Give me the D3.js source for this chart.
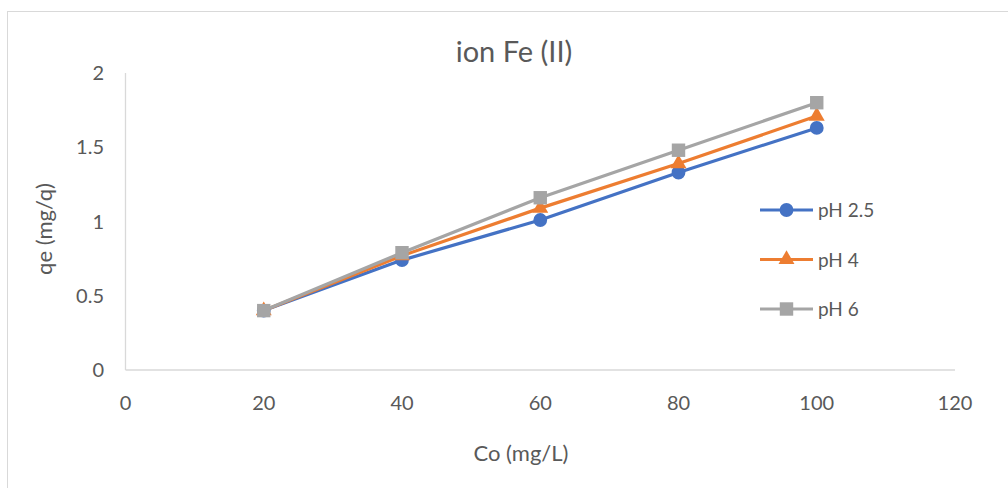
<!DOCTYPE html>
<html>
<head>
<meta charset="utf-8">
<script src="https://cdn.jsdelivr.net/npm/d3@7"></script>
<style>
  body { margin: 0; background: #fff; }
  svg { display: block; font-family: Lato, "Open Sans", sans-serif; }
</style>
</head>
<body>
<svg id="chart" width="1008" height="488"></svg>
<script>
// data
const concentrations = [20, 40, 60, 80, 100];
const ph25 = [0.40, 0.74, 1.01, 1.33, 1.63];
const ph4 = [0.40, 0.77, 1.09, 1.39, 1.71];
const ph6 = [0.40, 0.79, 1.16, 1.48, 1.80];
const seriesNames = ['pH 2.5', 'pH 4', 'pH 6'];
const xTicks = [0, 20, 40, 60, 80, 100, 120];
const yTicks = [0, 0.5, 1, 1.5, 2];

function renderChart() {
  const svg = d3.select('#chart');
  const width = 1008, height = 488;

  const x = d3.scaleLinear().domain([0, 120]).range([125.5, 955]);
  const y = d3.scaleLinear().domain([0, 2]).range([370, 73]);

  // outer chart border (runs off the right/bottom edge)
  svg.append('rect')
    .attr('x', 7.5).attr('y', 11.5)
    .attr('width', width).attr('height', height)
    .attr('fill', 'none').attr('stroke', '#d9d9d9');

  // title
  svg.append('text')
    .attr('x', 514).attr('y', 62)
    .attr('text-anchor', 'middle')
    .attr('font-size', 29).attr('fill', '#595959')
    .text('ion Fe (II)');

  // axes lines
  svg.append('line')
    .attr('x1', x(0)).attr('x2', x(0))
    .attr('y1', y(2)).attr('y2', y(0))
    .attr('stroke', '#d9d9d9').attr('stroke-width', 1.3);
  svg.append('line')
    .attr('x1', x(0)).attr('x2', x(120))
    .attr('y1', y(0)).attr('y2', y(0))
    .attr('stroke', '#d9d9d9').attr('stroke-width', 1.3);

  // tick labels
  svg.selectAll('.ytick')
    .data(yTicks)
    .enter()
    .append('text')
    .attr('class', 'ytick')
    .attr('x', 104).attr('y', d => y(d) + 7)
    .attr('text-anchor', 'end')
    .attr('font-size', 20).attr('fill', '#595959')
    .text(d => d);

  svg.selectAll('.xtick')
    .data(xTicks)
    .enter()
    .append('text')
    .attr('class', 'xtick')
    .attr('x', d => x(d)).attr('y', 410)
    .attr('text-anchor', 'middle')
    .attr('font-size', 20).attr('fill', '#595959')
    .text(d => d);

  // axis titles
  svg.append('text')
    .attr('x', 521).attr('y', 461)
    .attr('text-anchor', 'middle')
    .attr('font-size', 22).attr('fill', '#595959')
    .text('Co (mg/L)');
  svg.append('text')
    .attr('transform', 'translate(52,229) rotate(-90)')
    .attr('text-anchor', 'middle')
    .attr('font-size', 22).attr('fill', '#595959')
    .text('qe (mg/q)');

  const series = [
    { name: seriesNames[0], values: ph25, color: '#4472C4', shape: d3.symbolCircle, size: 150 },
    { name: seriesNames[1], values: ph4, color: '#ED7D31', shape: d3.symbolTriangle, size: 110 },
    { name: seriesNames[2], values: ph6, color: '#A5A5A5', shape: d3.symbolSquare, size: 180 }
  ];

  const line = d3.line()
    .x((d, i) => x(concentrations[i]))
    .y(d => y(d));

  series.forEach(s => {
    svg.append('path')
      .attr('d', line(s.values))
      .attr('fill', 'none')
      .attr('stroke', s.color)
      .attr('stroke-width', 3.2)
      .attr('stroke-linejoin', 'round');
    svg.selectAll(null)
      .data(s.values)
      .enter()
      .append('path')
      .attr('transform', (d, i) => `translate(${x(concentrations[i])},${y(d)})`)
      .attr('d', d3.symbol().type(s.shape).size(s.size))
      .attr('fill', s.color);
  });

  // legend
  const legend = svg.selectAll('.legend')
    .data(series)
    .enter()
    .append('g')
    .attr('class', 'legend')
    .attr('transform', (d, i) => `translate(760,${210 + i * 49.5})`);
  legend.append('line')
    .attr('x1', 0).attr('x2', 53)
    .attr('stroke', d => d.color).attr('stroke-width', 3.2);
  legend.append('path')
    .attr('transform', 'translate(26.5,0)')
    .attr('d', d => d3.symbol().type(d.shape).size(d.size)())
    .attr('fill', d => d.color);
  legend.append('text')
    .attr('x', 58).attr('y', 7)
    .attr('font-size', 19).attr('fill', '#595959')
    .text(d => d.name);
}

renderChart();
</script>
</body>
</html>
